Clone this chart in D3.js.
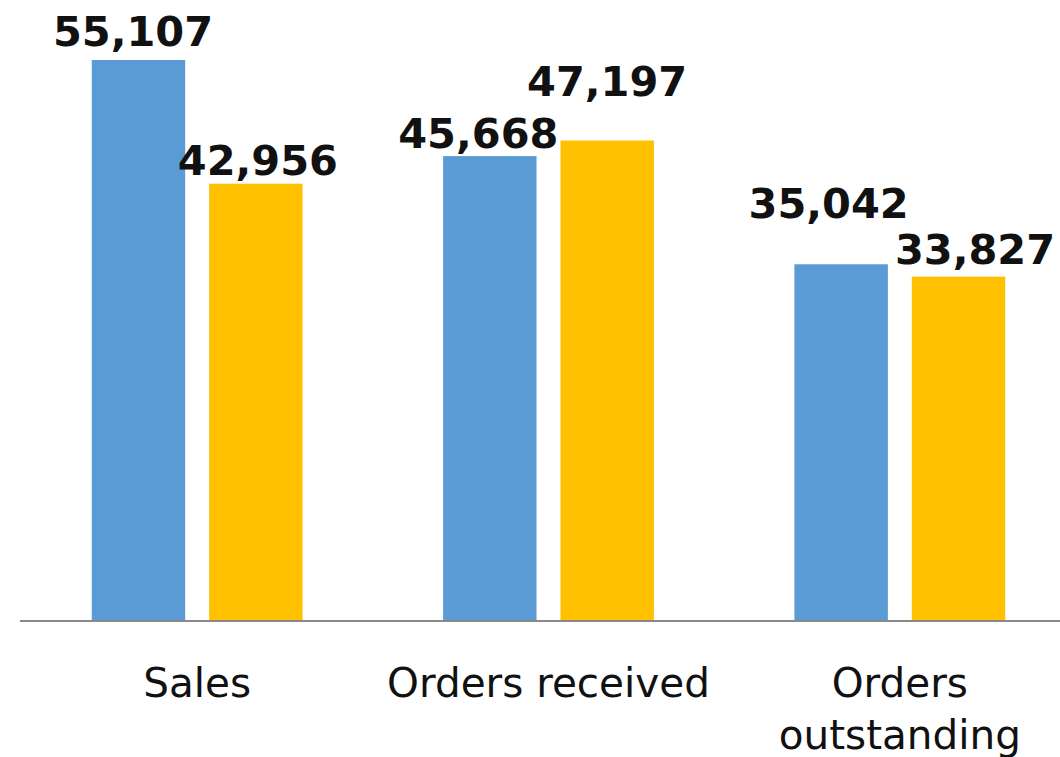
<!DOCTYPE html>
<html>
<head>
<meta charset="utf-8">
<script src="https://cdn.jsdelivr.net/npm/d3@7"></script>
<style>
  html, body { margin: 0; padding: 0; background: #fff; }
  svg { display: block; }
</style>
</head>
<body>
<div id="chart"></div>
<script>
const categories = ["Sales", "Orders received", "Orders outstanding"];
const series = ["Previous", "Current"];
const previousValues = [55107, 45668, 35042];
const currentValues = [42956, 47197, 33827];
const seriesColors = ["#5B9BD5", "#FFC000"];

// hand placed labels in the original, offsets from bar centre / top
const labelOffsets = [
    [[-5.5, -14.5], [2, -8.5]],
    [[-11.5, -8.5], [0, -45]],
    [[-12.5, -46], [16.5, -13]]
];

const width = 1060, height = 757;
const margin = {top: 10, bottom: 136, left: 21.5};

const svg = d3.select("#chart").append("svg")
    .attr("width", width)
    .attr("height", height);

// plot area runs past the right edge, as in the reference
const x0 = d3.scaleBand()
    .domain(categories)
    .range([margin.left, margin.left + 1054])
    .paddingInner(0.4)
    .paddingOuter(0.2);

const x1 = d3.scaleBand()
    .domain(series)
    .range([0, x0.bandwidth()])
    .paddingInner(0.204);

const y = d3.scaleLinear()
    .domain([0, 60000])
    .range([height - margin.bottom, margin.top + 0.2]);

const rows = categories.map((c, i) => ({
    category: c,
    values: [previousValues[i], currentValues[i]]
}));

const groups = svg.selectAll("g.group")
    .data(rows)
    .enter().append("g")
    .attr("class", "group")
    .attr("transform", d => `translate(${x0(d.category)},0)`);

groups.selectAll("rect")
    .data(d => d.values)
    .enter().append("rect")
    .attr("x", (d, i) => x1(series[i]))
    .attr("y", d => y(d))
    .attr("width", x1.bandwidth())
    .attr("height", d => y(0) - y(d))
    .attr("fill", (d, i) => seriesColors[i]);

groups.each(function(d, gi) {
    d3.select(this).selectAll("text.value")
        .data(d.values)
        .enter().append("text")
        .attr("class", "value")
        .attr("x", (v, i) => x1(series[i]) + x1.bandwidth() / 2 + labelOffsets[gi][i][0])
        .attr("y", (v, i) => y(v) + labelOffsets[gi][i][1])
        .attr("text-anchor", "middle")
        .attr("font-family", "DejaVu Sans, Verdana, sans-serif")
        .attr("font-weight", "bold")
        .attr("font-size", "41.5px")
        .attr("fill", "#111")
        .text(v => d3.format(",")(v));
});

// baseline
svg.append("line")
    .attr("x1", 20)
    .attr("x2", width)
    .attr("y1", y(0))
    .attr("y2", y(0))
    .attr("stroke", "#898989")
    .attr("stroke-width", 2);

// category labels, wrapped like the original
const wrapped = {"Orders outstanding": ["Orders", "outstanding"]};

svg.selectAll("text.cat")
    .data(categories)
    .enter().append("text")
    .attr("class", "cat")
    .attr("x", d => x0(d) + x0.bandwidth() / 2)
    .attr("y", y(0) + 76)
    .attr("text-anchor", "middle")
    .attr("font-family", "DejaVu Sans, Verdana, sans-serif")
    .attr("font-size", "40.5px")
    .attr("fill", "#111")
    .each(function(d) {
        const lines = wrapped[d] || [d];
        const t = d3.select(this);
        lines.forEach((l, i) => {
            t.append("tspan")
                .attr("x", x0(d) + x0.bandwidth() / 2)
                .attr("dy", i === 0 ? 0 : 52)
                .text(l);
        });
    });
</script>
</body>
</html>
